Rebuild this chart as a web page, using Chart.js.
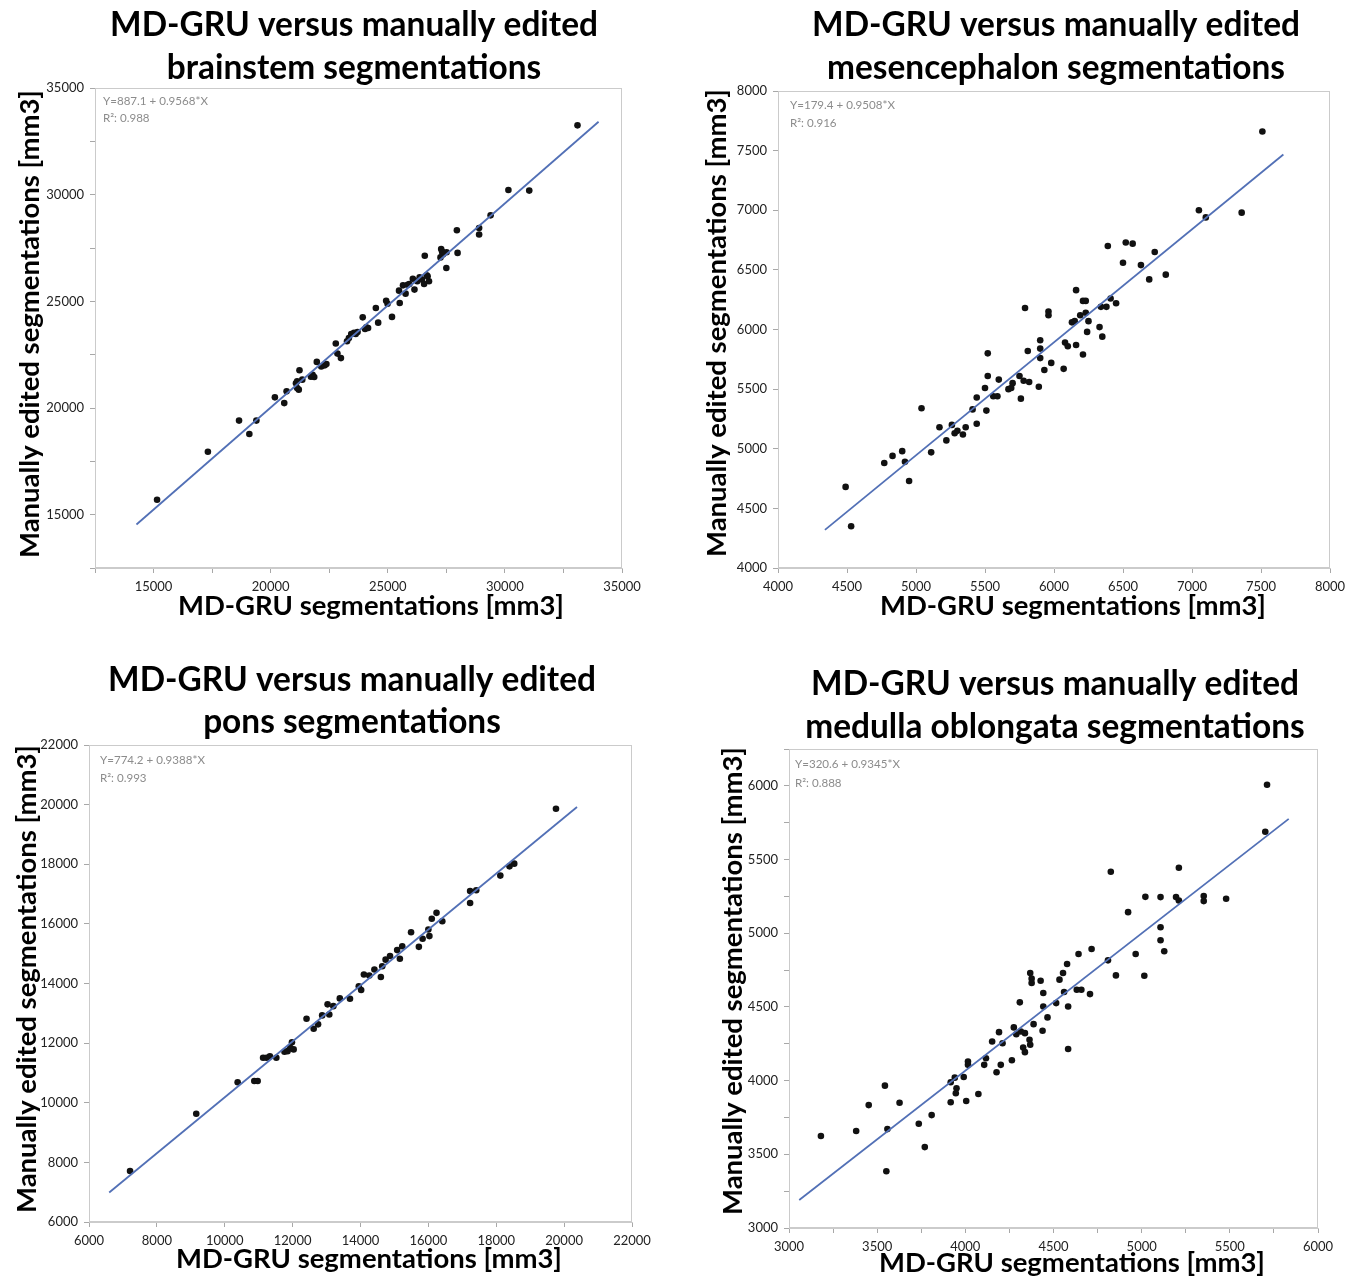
<!DOCTYPE html>
<html>
<head>
<meta charset="utf-8">
<title>MD-GRU versus manually edited segmentations</title>
<script src="https://cdn.jsdelivr.net/npm/chart.js@4.4.1/dist/chart.umd.min.js"></script>
<style>
  html, body { margin: 0; padding: 0; background: #fff; overflow: hidden; }
  .panel { position: absolute; }
</style>
</head>
<body>
<div class="panel" style="left:0;top:0"><canvas id="brainstemChart" width="679" height="638"></canvas></div>
<div class="panel" style="left:679px;top:0"><canvas id="mesencephalonChart" width="679" height="638"></canvas></div>
<div class="panel" style="left:0;top:638px"><canvas id="ponsChart" width="679" height="638"></canvas></div>
<div class="panel" style="left:679px;top:638px"><canvas id="medullaChart" width="679" height="638"></canvas></div>
<script>
// --- data (mm3) ---
const brainstemX = [15150, 17320, 18650, 19090, 19390, 20180, 20580, 20680, 21080, 21130, 21200, 21230, 21350, 21720, 21860, 21970, 22160, 22310, 22780, 22850, 23000, 23260, 23440, 23560, 23630, 23930, 24030, 24160, 24490, 24590, 24930, 24990, 25180, 25480, 25510, 25650, 25760, 25850, 26070, 26140, 26260, 26460, 26550, 26660, 26580, 26760, 27250, 27280, 27350, 27510, 27500, 27980, 27950, 28900, 28900, 29390, 30150, 31040, 33100, 23340, 23710, 24080, 25920, 26360, 26700, 27320, 21130, 21790, 22380];
const brainstemY = [15700, 17950, 19410, 18780, 19410, 20500, 20230, 20780, 21160, 20940, 20860, 21770, 21330, 21470, 21450, 22160, 21950, 22000, 23020, 22550, 22340, 23130, 23470, 23520, 23470, 24250, 23700, 23750, 24690, 24000, 25030, 24890, 24270, 25500, 24920, 25750, 25360, 25780, 26060, 25550, 25940, 26020, 25810, 26220, 27140, 25940, 27060, 27450, 27190, 27300, 26560, 27270, 28330, 28440, 28130, 29030, 30220, 30190, 33250, 23280, 23560, 23780, 25810, 26130, 26170, 27330, 21250, 21560, 22060];
const brainstemFitX = [14270, 34000];
const brainstemFitY = [14540, 33420];

const mesencephalonX = [4490, 4530, 4770, 4830, 4900, 4920, 4950, 5040, 5110, 5170, 5220, 5260, 5280, 5300, 5340, 5360, 5410, 5440, 5440, 5500, 5510, 5520, 5520, 5560, 5590, 5600, 5670, 5690, 5700, 5750, 5760, 5780, 5790, 5810, 5820, 5890, 5900, 5900, 5900, 5930, 5960, 5960, 5980, 6070, 6080, 6100, 6130, 6150, 6160, 6160, 6190, 6210, 6210, 6230, 6230, 6240, 6250, 6330, 6340, 6350, 6380, 6390, 6410, 6450, 6500, 6520, 6570, 6630, 6690, 6730, 6810, 7050, 7100, 7360, 7510];
const mesencephalonY = [4680, 4350, 4880, 4940, 4980, 4890, 4730, 5340, 4970, 5180, 5070, 5200, 5130, 5150, 5120, 5180, 5330, 5430, 5210, 5510, 5320, 5610, 5800, 5440, 5440, 5580, 5500, 5510, 5550, 5610, 5420, 5570, 6180, 5820, 5560, 5520, 5910, 5840, 5760, 5660, 6150, 6120, 5720, 5670, 5890, 5860, 6060, 6070, 6330, 5870, 6120, 5790, 6240, 6140, 6240, 5980, 6070, 6020, 6190, 5940, 6190, 6700, 6260, 6220, 6560, 6730, 6720, 6540, 6420, 6650, 6460, 7000, 6940, 6980, 7660];
const mesencephalonFitX = [4340, 7662];
const mesencephalonFitY = [4320, 7467];

const ponsX = [7210, 9160, 10380, 10870, 10970, 11130, 11230, 11330, 11520, 11760, 11850, 11930, 11980, 12030, 12410, 12620, 12750, 12870, 13030, 13080, 13200, 13390, 13690, 13950, 14020, 14100, 14260, 14410, 14600, 14640, 14740, 14870, 15080, 15160, 15230, 15490, 15720, 15830, 16000, 16030, 16100, 16240, 16410, 17230, 17230, 17410, 18120, 18390, 18530, 19760];
const ponsY = [7710, 9630, 10690, 10730, 10730, 11510, 11510, 11560, 11510, 11710, 11730, 11840, 12030, 11790, 12820, 12480, 12630, 12930, 13300, 12960, 13240, 13500, 13490, 13910, 13780, 14300, 14270, 14470, 14220, 14580, 14800, 14920, 15120, 14830, 15250, 15720, 15230, 15500, 15810, 15590, 16170, 16370, 16090, 16700, 17100, 17130, 17620, 17930, 18020, 19860];
const ponsFitX = [6595, 20380];
const ponsFitY = [6990, 19920];

const medullaX = [3181, 3381, 3452, 3544, 3558, 3552, 3627, 3736, 3770, 3809, 3917, 3917, 3940, 3950, 3946, 3991, 4005, 4015, 4015, 4074, 4107, 4117, 4152, 4177, 4191, 4201, 4211, 4264, 4275, 4289, 4309, 4315, 4328, 4338, 4338, 4364, 4368, 4368, 4376, 4376, 4387, 4427, 4438, 4442, 4442, 4466, 4515, 4534, 4554, 4560, 4577, 4583, 4583, 4632, 4658, 4642, 4707, 4716, 4809, 4825, 4854, 4923, 4966, 5015, 5021, 5107, 5107, 5107, 5128, 5195, 5211, 5211, 5352, 5352, 5479, 5701, 5711];
const medullaY = [3624, 3658, 3834, 3966, 3671, 3385, 3850, 3707, 3549, 3766, 3853, 3989, 4020, 3948, 3914, 4025, 3862, 4129, 4107, 3909, 4107, 4152, 4265, 4057, 4329, 4107, 4254, 4138, 4361, 4315, 4531, 4333, 4224, 4193, 4322, 4277, 4243, 4730, 4692, 4662, 4383, 4678, 4338, 4594, 4503, 4429, 4526, 4685, 4730, 4601, 4791, 4503, 4215, 4617, 4617, 4859, 4587, 4893, 4816, 5417, 4714, 5143, 4859, 4712, 5247, 5245, 5041, 4952, 4878, 5245, 5222, 5444, 5252, 5218, 5234, 5689, 6007];
const medullaFitX = [3058, 5834];
const medullaFitY = [3190, 5776];

const titleLine1 = 'MD-GRU versus manually edited';
const xAxisTitle = 'MD-GRU segmentations [mm3]';
const yAxisTitle = 'Manually edited segmentations [mm3]';

const fontFamily = 'Lato, "Open Sans", sans-serif';
const yScaleWidth = 58; // wide enough so the 5-digit labels are not clipped

// pick font sizes so the text widths match the figure
function fitSize(text, weight, target) {
    const c = document.createElement('canvas').getContext('2d');
    c.font = weight + ' 100px ' + fontFamily;
    return 100 * target / c.measureText(text).width;
}
const titleSize = fitSize(titleLine1, 'bold', 488);
const axisSize = (fitSize(xAxisTitle, 'bold', 383) + fitSize(yAxisTitle, 'bold', 472)) / 2;
const noteSize = fitSize('Y=887.1 + 0.9568*X', 'normal', 105);

// titles, axis titles, fit notes and the plot frame
const panelText = {
    id: 'panelText',
    afterDraw(chart, args, o) {
        const ctx = chart.ctx;
        const a = chart.chartArea;
        ctx.save();
        ctx.strokeStyle = '#cbcbcb';
        ctx.lineWidth = 1;
        ctx.strokeRect(a.left + 0.5, a.top + 0.5, a.right - a.left - 1, a.bottom - a.top - 1);

        ctx.translate(-o.ox, -o.oy);
        ctx.fillStyle = '#000';
        ctx.textAlign = 'center';
        ctx.textBaseline = 'middle';
        ctx.font = 'bold ' + titleSize + 'px ' + fontFamily;
        o.title.forEach((t, i) => ctx.fillText(t, o.titleX, o.titleY[i]));

        ctx.font = 'bold ' + axisSize + 'px ' + fontFamily;
        ctx.fillText(xAxisTitle, o.xTitle[0], o.xTitle[1]);
        ctx.save();
        ctx.translate(o.yTitle[0], o.yTitle[1]);
        ctx.rotate(-Math.PI / 2);
        ctx.fillText(yAxisTitle, 0, 0);
        ctx.restore();

        ctx.font = noteSize + 'px ' + fontFamily;
        ctx.fillStyle = '#8c8c8c';
        ctx.textAlign = 'left';
        o.notes.forEach((t, i) => ctx.fillText(t, o.noteX, o.noteY[i]));
        ctx.restore();
    }
};

function axis(min, max, step, every, dir) {
    return {
        type: 'linear',
        min: min,
        max: max,
        ticks: {
            stepSize: step,
            autoSkip: false,
            maxRotation: 0,
            padding: 6,
            color: '#222',
            font: { family: fontFamily, size: 13 },
            callback: v => (v % every === 0 ? String(v) : '')
        },
        grid: { drawOnChartArea: false, drawTicks: true, tickLength: 5, color: '#a8a8a8' },
        border: { display: true, color: '#cbcbcb' },
        afterFit: dir === 'x'
            ? s => { s.height = 30; s.paddingLeft = 0; s.paddingRight = 0; }
            : s => { s.width = yScaleWidth; s.paddingTop = 0; s.paddingBottom = 0; }
    };
}

// plotLeft/Top/Right/Bottom are page pixels of the plot frame
function makeChart(id, cfg) {
    const pts = cfg.x.map((v, i) => ({ x: v, y: cfg.y[i] }));
    const fit = cfg.fitX.map((v, i) => ({ x: v, y: cfg.fitY[i] }));
    const o = cfg.text;
    const pad = {
        left: cfg.frame[0] - o.ox - yScaleWidth,
        top: cfg.frame[1] - o.oy,
        right: o.ox + 679 - cfg.frame[2],
        bottom: o.oy + 638 - cfg.frame[3] - 30
    };
    new Chart(document.getElementById(id), {
        type: 'scatter',
        data: {
            datasets: [
                { data: pts, pointRadius: 3.3, pointBackgroundColor: '#111', pointBorderWidth: 0, order: 2 },
                { data: fit, showLine: true, borderColor: '#5270b6', borderWidth: 1.8, pointRadius: 0, order: 1 }
            ]
        },
        options: {
            animation: false,
            responsive: false,
            layout: { padding: pad },
            plugins: { legend: { display: false }, tooltip: { enabled: false }, panelText: o },
            scales: {
                x: axis(cfg.xr[0], cfg.xr[1], cfg.xr[2], cfg.xr[3], 'x'),
                y: axis(cfg.yr[0], cfg.yr[1], cfg.yr[2], cfg.yr[3], 'y')
            }
        },
        plugins: [panelText]
    });
}

makeChart('brainstemChart', {
    x: brainstemX, y: brainstemY, fitX: brainstemFitX, fitY: brainstemFitY,
    xr: [12500, 35000, 2500, 5000], yr: [12500, 35000, 2500, 5000],
    frame: [95, 88, 622, 568],
    text: {
        ox: 0, oy: 0,
        title: [titleLine1, 'brainstem segmentations'], titleX: 354, titleY: [25, 68],
        xTitle: [371, 606], yTitle: [30, 324],
        notes: ['Y=887.1 + 0.9568*X', 'R²: 0.988'], noteX: 103, noteY: [101, 118]
    }
});

makeChart('mesencephalonChart', {
    x: mesencephalonX, y: mesencephalonY, fitX: mesencephalonFitX, fitY: mesencephalonFitY,
    xr: [4000, 8000, 500, 500], yr: [4000, 8000, 500, 500],
    frame: [778, 91, 1330, 568],
    text: {
        ox: 679, oy: 0,
        title: [titleLine1, 'mesencephalon segmentations'], titleX: 1056, titleY: [25, 68],
        xTitle: [1073, 606], yTitle: [717, 323],
        notes: ['Y=179.4 + 0.9508*X', 'R²: 0.916'], noteX: 790, noteY: [105, 123]
    }
});

makeChart('ponsChart', {
    x: ponsX, y: ponsY, fitX: ponsFitX, fitY: ponsFitY,
    xr: [6000, 22000, 2000, 2000], yr: [6000, 22000, 2000, 2000],
    frame: [89, 745, 632, 1222],
    text: {
        ox: 0, oy: 638,
        title: [titleLine1, 'pons segmentations'], titleX: 352, titleY: [680, 722],
        xTitle: [369, 1259], yTitle: [27, 979],
        notes: ['Y=774.2 + 0.9388*X', 'R²: 0.993'], noteX: 100, noteY: [760, 778]
    }
});

makeChart('medullaChart', {
    x: medullaX, y: medullaY, fitX: medullaFitX, fitY: medullaFitY,
    xr: [3000, 6000, 250, 500], yr: [3000, 6250, 250, 500],
    frame: [789, 749, 1318, 1228],
    text: {
        ox: 679, oy: 638,
        title: [titleLine1, 'medulla oblongata segmentations'], titleX: 1055, titleY: [684, 727],
        xTitle: [1072, 1263], yTitle: [733, 981],
        notes: ['Y=320.6 + 0.9345*X', 'R²: 0.888'], noteX: 795, noteY: [764, 783]
    }
});
</script>
</body>
</html>
